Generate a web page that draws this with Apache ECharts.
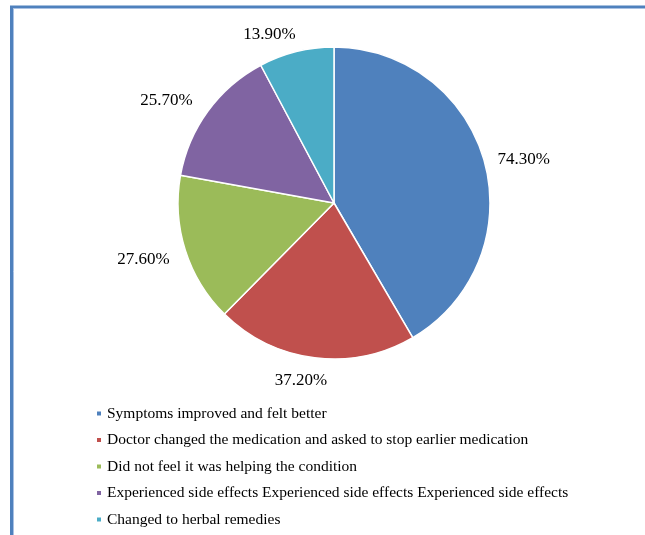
<!DOCTYPE html>
<html>
<head>
<meta charset="utf-8">
<style>
  html, body { margin: 0; padding: 0; background: #ffffff; }
  #chart { width: 645px; height: 535px; }
</style>
<script src="https://cdn.jsdelivr.net/npm/echarts@6/dist/echarts.min.js"></script>
</head>
<body>
<div id="chart"></div>
<script>
// Reasons for stopping medication (percent of respondents)
var categories = [
  'Symptoms improved and felt better',
  'Doctor changed the medication and asked to stop earlier medication',
  'Did not feel it was helping the condition',
  'Experienced side effects Experienced side effects Experienced side effects',
  'Changed to herbal remedies'
];
var values = [74.3, 37.2, 27.6, 25.7, 13.9];
var colors = ['#4f81bd', '#c0504d', '#9bbb59', '#8064a2', '#4bacc6'];
// small per-label nudges (px) applied after the radial placement
var labelNudgeX = [4, -11, -7, -13, -21];
var labelNudgeY = [7, 2, -2, 10, 6];

var CX = 334, CY = 203, R = 156, GAP = 9;
var total = values.reduce(function (a, b) { return a + b; }, 0);

// mid-angle of each slice, clockwise from 12 o'clock
var midAngles = [];
(function () {
  var acc = 0;
  for (var i = 0; i < values.length; i++) {
    midAngles.push((acc + values[i] / 2) / total * 2 * Math.PI);
    acc += values[i];
  }
})();

var chart = echarts.init(document.getElementById('chart'), null, { renderer: 'canvas' });
var font = '"Liberation Serif", "Times New Roman", serif';

chart.setOption({
  animation: false,
  color: colors,
  graphic: [
    { type: 'line', shape: { x1: 10, y1: 7, x2: 645, y2: 7 }, style: { stroke: '#4f81bd', lineWidth: 3 } },
    { type: 'line', shape: { x1: 11.5, y1: 6, x2: 11.5, y2: 535 }, style: { stroke: '#4f81bd', lineWidth: 3 } },
    { type: 'line', shape: { x1: 13, y1: 8.5, x2: 645, y2: 8.5 }, style: { stroke: '#a9c1e3', lineWidth: 1 } },
    { type: 'line', shape: { x1: 13.5, y1: 8.5, x2: 13.5, y2: 535 }, style: { stroke: '#a9c1e3', lineWidth: 1 } }
  ],
  legend: {
    orient: 'vertical',
    left: 95,
    top: 405.5,
    height: 140,
    padding: 0,
    itemWidth: 6,
    itemHeight: 6,
    itemGap: 10.5,
    icon: 'rect',
    selectedMode: false,
    textStyle: { fontFamily: font, fontSize: 15.5, color: '#000000', lineHeight: 16 },
    data: categories
  },
  series: [{
    type: 'pie',
    center: [CX, CY],
    radius: [0, R],
    startAngle: 90,
    clockwise: true,
    avoidLabelOverlap: false,
    itemStyle: { borderColor: '#ffffff', borderWidth: 1.5 },
    label: {
      show: true,
      position: 'outside',
      fontFamily: font,
      fontSize: 17,
      color: '#000000',
      formatter: function (p) { return values[p.dataIndex].toFixed(2) + '%'; }
    },
    labelLine: { show: false },
    labelLayout: function (p) {
      var i = p.dataIndex;
      var a = midAngles[i];
      var dx = Math.sin(a), dy = -Math.cos(a);
      var w = p.labelRect.width, h = p.labelRect.height;
      var ext = Math.abs(dx) * w / 2 + Math.abs(dy) * h / 2;
      var d = R + GAP + ext;
      return {
        x: CX + dx * d + labelNudgeX[i],
        y: CY + dy * d + labelNudgeY[i],
        align: 'center',
        verticalAlign: 'middle'
      };
    },
    data: categories.map(function (c, i) { return { name: c, value: values[i] }; })
  }]
});
</script>
</body>
</html>
